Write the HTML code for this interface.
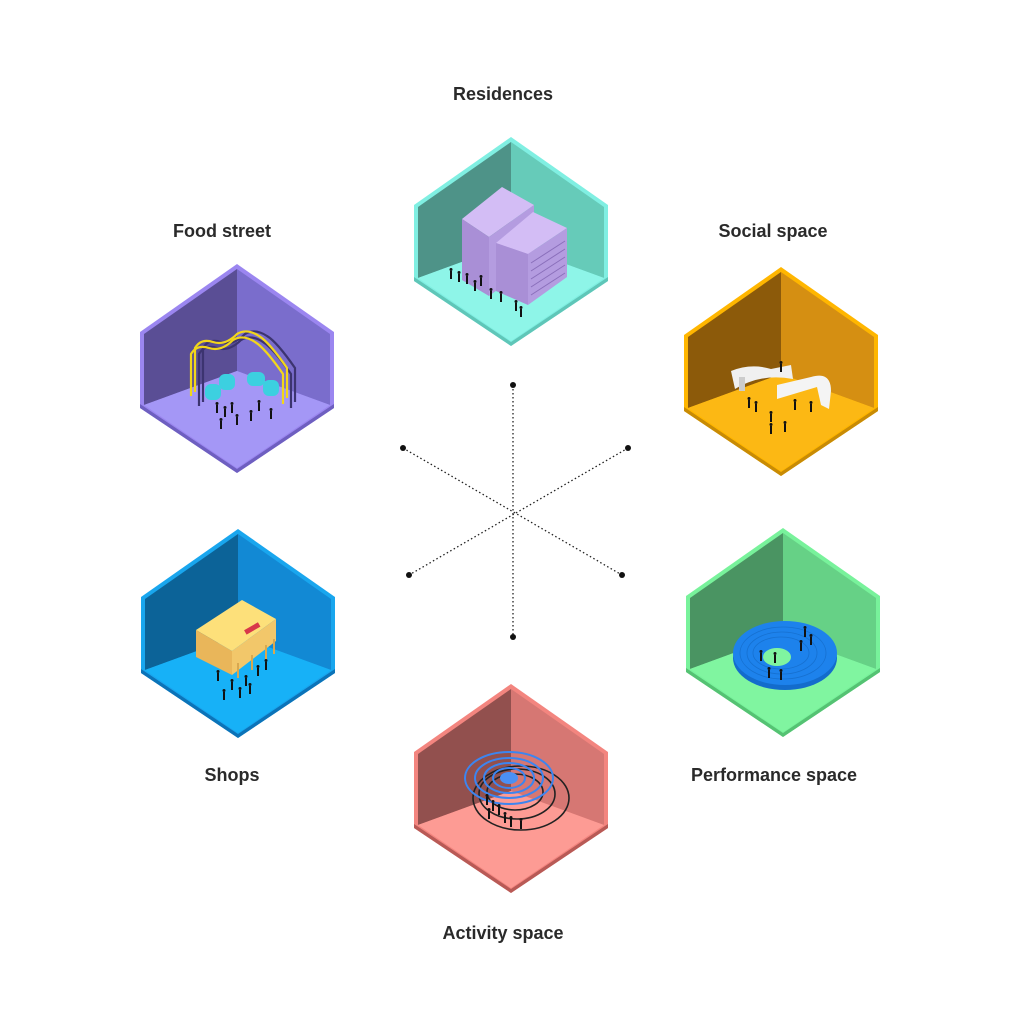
<!DOCTYPE html>
<html><head><meta charset="utf-8"><style>
html,body{margin:0;padding:0;background:#fff;}
svg{display:block;}
text{font-family:"Liberation Sans",sans-serif;font-size:18px;font-weight:bold;fill:#2a2a2a;text-anchor:middle;}
</style></head><body>
<svg width="1024" height="1024" viewBox="0 0 1024 1024" xmlns="http://www.w3.org/2000/svg">
<defs>
<g id="p"><rect x="-1" y="-5" width="2" height="8" fill="#111"/><circle cx="0" cy="-6.5" r="1.5" fill="#111"/></g>
</defs>

<text x="503" y="100">Residences</text>
<text x="222" y="237">Food street</text>
<text x="773" y="237">Social space</text>
<text x="232" y="781">Shops</text>
<text x="774" y="781">Performance space</text>
<text x="503" y="939">Activity space</text>

<g stroke="#222" stroke-width="1.3" stroke-dasharray="1.5 2.5" fill="none">
<line x1="513" y1="385" x2="513" y2="637"/>
<line x1="403" y1="448" x2="622" y2="575"/>
<line x1="628" y1="448" x2="409" y2="575"/>
</g>
<g fill="#111">
<circle cx="513" cy="385" r="3"/><circle cx="513" cy="637" r="3"/>
<circle cx="403" cy="448" r="3"/><circle cx="628" cy="448" r="3"/>
<circle cx="409" cy="575" r="3"/><circle cx="622" cy="575" r="3"/>
</g>

<!-- Residences -->
<g transform="translate(511,241)">
<polygon points="0,-104 97,-36 97,40 0,105 -97,40 -97,-36" fill="#80efe2"/>
<polygon points="-97,36 0,101 97,36 97,40 0,105 -97,40" fill="#5fc6b8"/>
<polygon points="-93,-34 0,-99 0,3 -93,37" fill="#4e9388"/>
<polygon points="0,-99 93,-34 93,37 0,3" fill="#66cbb9"/>
<polygon points="0,3 93,37 0,100 -93,37" fill="#8ef5e8"/>
<polygon points="-49,-22 -9,-54 23,-36 -22,-4" fill="#d3bdf5"/>
<polygon points="-49,-22 -22,-4 -22,55 -49,39" fill="#a98fd6"/>
<polygon points="-22,-4 23,-36 23,22 -22,55" fill="#b49ce0"/>
<polygon points="-15,2 22,-29 56,-13 17,13" fill="#d3bdf5"/>
<polygon points="-15,2 17,13 17,64 -15,50" fill="#a98fd6"/>
<polygon points="17,13 56,-13 56,36 17,64" fill="#b49ce0"/>
<g stroke="#8a6fbb" stroke-width="1">
<line x1="20" y1="22" x2="54" y2="0"/><line x1="20" y1="30" x2="54" y2="8"/><line x1="20" y1="38" x2="54" y2="16"/><line x1="20" y1="46" x2="54" y2="24"/><line x1="20" y1="54" x2="54" y2="32"/>
</g>
<g><use href="#p" x="-60" y="35"/><use href="#p" x="-52" y="38"/><use href="#p" x="-44" y="40"/><use href="#p" x="-36" y="47"/><use href="#p" x="-30" y="42"/><use href="#p" x="-20" y="55"/><use href="#p" x="-10" y="58"/><use href="#p" x="5" y="67"/><use href="#p" x="10" y="73"/></g>
</g>

<!-- Food street -->
<g transform="translate(237,368)">
<polygon points="0,-104 97,-36 97,40 0,105 -97,40 -97,-36" fill="#9b86f0"/>
<polygon points="-97,36 0,101 97,36 97,40 0,105 -97,40" fill="#6e5fc0"/>
<polygon points="-93,-34 0,-99 0,3 -93,37" fill="#5a4e95"/>
<polygon points="0,-99 93,-34 93,37 0,3" fill="#7a6dcc"/>
<polygon points="0,3 93,37 0,100 -93,37" fill="#a497f6"/>
<g fill="none" stroke-width="2.2">
<path d="M-38,38 V-14 Q-32,-24 -20,-20 Q-8,-16 4,-28 Q14,-34 26,-26 Q36,-20 54,6 V40" stroke="#3c3470"/>
<path d="M-34,34 V-20 Q-28,-30 -16,-26 Q-4,-22 8,-34 Q18,-40 30,-32 Q40,-26 58,0 V34" stroke="#3c3470"/>
<path d="M-46,28 V-14 Q-40,-24 -28,-20 Q-16,-16 -4,-28 Q6,-34 18,-26 Q28,-20 46,6 V36" stroke="#f2d61a"/>
<path d="M-42,24 V-20 Q-36,-30 -24,-26 Q-12,-22 0,-34 Q10,-40 22,-32 Q32,-26 50,0 V30" stroke="#f2d61a"/>
</g>
<g fill="#3cd0e0"><rect x="-32" y="16" width="16" height="16" rx="6"/><rect x="-18" y="6" width="16" height="16" rx="6"/><rect x="10" y="4" width="18" height="14" rx="6"/><rect x="26" y="12" width="16" height="16" rx="6"/></g>
<g><use href="#p" x="-20" y="42"/><use href="#p" x="-12" y="46"/><use href="#p" x="-5" y="42"/><use href="#p" x="0" y="54"/><use href="#p" x="-16" y="58"/><use href="#p" x="14" y="50"/><use href="#p" x="22" y="40"/><use href="#p" x="34" y="48"/></g>
</g>

<!-- Social space -->
<g transform="translate(781,371)">
<polygon points="0,-104 97,-36 97,40 0,105 -97,40 -97,-36" fill="#ffb600"/>
<polygon points="-97,36 0,101 97,36 97,40 0,105 -97,40" fill="#c88b05"/>
<polygon points="-93,-34 0,-99 0,3 -93,37" fill="#8c5a0a"/>
<polygon points="0,-99 93,-34 93,37 0,3" fill="#d58f12"/>
<polygon points="0,3 93,37 0,100 -93,37" fill="#fcb814"/>
<path d="M-50,0 Q-30,-8 -10,-2 L10,-6 L12,8 Q-20,2 -46,18 Z" fill="#f0f0f0"/>
<path d="M-4,14 L30,6 Q50,0 50,20 L48,38 L40,34 L36,16 L-4,28 Z" fill="#f4f4f4"/>
<rect x="-42" y="6" width="6" height="14" fill="#ccc"/>
<g><use href="#p" x="-32" y="34"/><use href="#p" x="-25" y="38"/><use href="#p" x="-10" y="48"/><use href="#p" x="14" y="36"/><use href="#p" x="30" y="38"/><use href="#p" x="-10" y="60"/><use href="#p" x="4" y="58"/><use href="#p" x="0" y="-2"/></g>
</g>

<!-- Shops -->
<g transform="translate(238,633)">
<polygon points="0,-104 97,-36 97,40 0,105 -97,40 -97,-36" fill="#19a6ee"/>
<polygon points="-97,36 0,101 97,36 97,40 0,105 -97,40" fill="#0c73b8"/>
<polygon points="-93,-34 0,-99 0,3 -93,37" fill="#0c6398"/>
<polygon points="0,-99 93,-34 93,37 0,3" fill="#1289d4"/>
<polygon points="0,3 93,37 0,100 -93,37" fill="#17b1f7"/>
<polygon points="-42,-3 4,-33 38,-14 -6,18" fill="#fde07a"/>
<polygon points="-42,-3 -6,18 -6,42 -42,24" fill="#e9b65a"/>
<polygon points="-6,18 38,-14 38,8 -6,42" fill="#f2c76a"/>
<rect x="6" y="-7" width="16" height="5" fill="#d8384a" transform="rotate(-30 14 -5)"/>
<g stroke="#d8a850" stroke-width="2"><line x1="0" y1="30" x2="0" y2="45"/><line x1="14" y1="22" x2="14" y2="37"/><line x1="28" y1="12" x2="28" y2="27"/><line x1="36" y1="6" x2="36" y2="21"/></g>
<g><use href="#p" x="-20" y="45"/><use href="#p" x="-6" y="54"/><use href="#p" x="8" y="50"/><use href="#p" x="20" y="40"/><use href="#p" x="28" y="34"/><use href="#p" x="-14" y="64"/><use href="#p" x="2" y="62"/><use href="#p" x="12" y="58"/></g>
</g>

<!-- Performance space -->
<g transform="translate(783,632)">
<polygon points="0,-104 97,-36 97,40 0,105 -97,40 -97,-36" fill="#78f29b"/>
<polygon points="-97,36 0,101 97,36 97,40 0,105 -97,40" fill="#55c273"/>
<polygon points="-93,-34 0,-99 0,3 -93,37" fill="#4a9462"/>
<polygon points="0,-99 93,-34 93,37 0,3" fill="#66d186"/>
<polygon points="0,3 93,37 0,100 -93,37" fill="#80f5a0"/>
<ellipse cx="2" cy="26" rx="52" ry="32" fill="#136ccc"/>
<ellipse cx="2" cy="21" rx="52" ry="32" fill="#1d82ec"/>
<g fill="none" stroke="#1670d0" stroke-width="0.8"><ellipse cx="0" cy="21" rx="43" ry="26"/><ellipse cx="-1" cy="21" rx="35" ry="21"/><ellipse cx="-2" cy="21" rx="28" ry="16"/></g>
<ellipse cx="-6" cy="25" rx="14" ry="9" fill="#80f5a0"/>
<g><use href="#p" x="-22" y="26"/><use href="#p" x="-8" y="28"/><use href="#p" x="-14" y="43"/><use href="#p" x="-2" y="45"/><use href="#p" x="18" y="16"/><use href="#p" x="22" y="2"/><use href="#p" x="28" y="10"/></g>
</g>

<!-- Activity space -->
<g transform="translate(511,788)">
<polygon points="0,-104 97,-36 97,40 0,105 -97,40 -97,-36" fill="#f3857f"/>
<polygon points="-97,36 0,101 97,36 97,40 0,105 -97,40" fill="#b85a56"/>
<polygon points="-93,-34 0,-99 0,3 -93,37" fill="#92504e"/>
<polygon points="0,-99 93,-34 93,37 0,3" fill="#d67773"/>
<polygon points="0,3 93,37 0,100 -93,37" fill="#fd9b94"/>
<g fill="none" stroke="#222" stroke-width="1.6"><ellipse cx="10" cy="10" rx="48" ry="32"/><ellipse cx="6" cy="6" rx="38" ry="25"/><ellipse cx="4" cy="4" rx="28" ry="18"/></g>
<g fill="none" stroke="#3c85f0" stroke-width="2"><ellipse cx="-2" cy="-10" rx="44" ry="26"/><ellipse cx="-2" cy="-10" rx="34" ry="20"/><ellipse cx="-2" cy="-10" rx="25" ry="15"/><ellipse cx="-2" cy="-10" rx="16" ry="10"/></g>
<ellipse cx="-2" cy="-10" rx="9" ry="6" fill="#4b90f4"/>
<g><use href="#p" x="-24" y="14"/><use href="#p" x="-18" y="20"/><use href="#p" x="-12" y="24"/><use href="#p" x="-6" y="32"/><use href="#p" x="0" y="36"/><use href="#p" x="10" y="38"/><use href="#p" x="-22" y="28"/></g>
</g>
</svg>
</body></html>
